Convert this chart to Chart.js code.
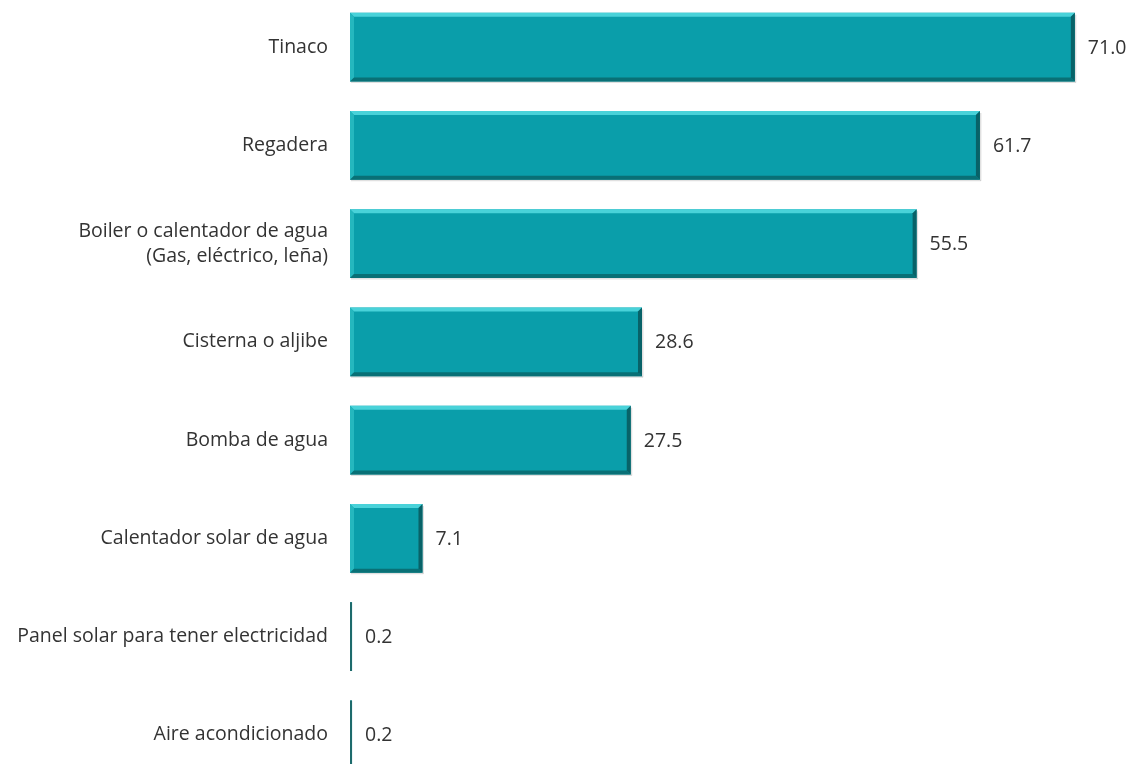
<!DOCTYPE html>
<html>
<head>
<meta charset="utf-8">
<script src="https://cdn.jsdelivr.net/npm/chart.js@4"></script>
<style>
  html, body { margin: 0; padding: 0; background: #fff; overflow: hidden; }
  #wrap { position: absolute; left: 0; top: -2px; width: 1130px; height: 786px; }
</style>
</head>
<body>
<div id="wrap"><canvas id="myChart"></canvas></div>
<script>
// categorias y valores (%)
var categories = [
  "Tinaco",
  "Regadera",
  ["Boiler o calentador de agua", "(Gas, eléctrico, leña)"],
  "Cisterna o aljibe",
  "Bomba de agua",
  "Calentador solar de agua",
  "Panel solar para tener electricidad",
  "Aire acondicionado"
];
var values = [71.0, 61.7, 55.5, 28.6, 27.5, 7.1, 0.2, 0.2];
var valueLabels = ["71.0", "61.7", "55.5", "28.6", "27.5", "7.1", "0.2", "0.2"];

var fontFamily = "'Open Sans', 'Noto Sans', sans-serif";

// efecto biselado en las barras
var bevelPlugin = {
  id: "bevel",
  afterDatasetsDraw: function (chart) {
    var ctx = chart.ctx;
    var meta = chart.getDatasetMeta(0);
    meta.data.forEach(function (bar, i) {
      var left = Math.min(bar.base, bar.x);
      var right = Math.max(bar.base, bar.x);
      var top = bar.y - bar.height / 2;
      var bottom = bar.y + bar.height / 2;
      var w = right - left;
      var h = bottom - top;
      var e = Math.min(4, w / 2);
      ctx.save();
      if (w > 6) {
        // arriba claro
        ctx.fillStyle = "rgba(80, 215, 222, 0.9)";
        ctx.beginPath();
        ctx.moveTo(left, top); ctx.lineTo(right, top);
        ctx.lineTo(right - e, top + e); ctx.lineTo(left + e, top + e);
        ctx.closePath(); ctx.fill();
        // izquierda
        ctx.fillStyle = "rgba(40, 185, 192, 0.9)";
        ctx.beginPath();
        ctx.moveTo(left, top); ctx.lineTo(left + e, top + e);
        ctx.lineTo(left + e, bottom - e); ctx.lineTo(left, bottom);
        ctx.closePath(); ctx.fill();
        // abajo oscuro
        ctx.fillStyle = "rgba(10, 110, 115, 0.95)";
        ctx.beginPath();
        ctx.moveTo(left, bottom); ctx.lineTo(right, bottom);
        ctx.lineTo(right - e, bottom - e); ctx.lineTo(left + e, bottom - e);
        ctx.closePath(); ctx.fill();
        // derecha
        ctx.fillStyle = "rgba(8, 95, 100, 0.95)";
        ctx.beginPath();
        ctx.moveTo(right, top); ctx.lineTo(right - e, top + e);
        ctx.lineTo(right - e, bottom - e); ctx.lineTo(right, bottom);
        ctx.closePath(); ctx.fill();
        // sombra
        ctx.fillStyle = "rgba(0, 0, 0, 0.12)";
        ctx.fillRect(left + 1, bottom, w, 1.5);
        ctx.fillRect(right, top + 2, 1.5, h - 1);
      } else {
        ctx.fillStyle = "#1d6b6c";
        ctx.fillRect(left, top, Math.max(w, 2), h);
      }
      // etiqueta de valor
      ctx.fillStyle = "#333333";
      ctx.font = "19.5px " + fontFamily;
      ctx.textAlign = "left";
      ctx.textBaseline = "middle";
      ctx.fillText(valueLabels[i], right + 13, bar.y + 1);
      ctx.restore();
    });
  }
};

var ctx = document.getElementById("myChart").getContext("2d");
var chart = new Chart(ctx, {
  type: "bar",
  data: {
    labels: categories,
    datasets: [
      {
        data: values,
        backgroundColor: "#0a9eaa",
        borderWidth: 0,
        categoryPercentage: 0.7,
        barPercentage: 1.0
      }
    ]
  },
  options: {
    indexAxis: "y",
    responsive: true,
    maintainAspectRatio: false,
    animation: false,
    layout: { padding: 0 },
    plugins: {
      legend: { display: false },
      tooltip: { enabled: false }
    },
    scales: {
      x: {
        min: 0,
        max: 76.4,
        display: false
      },
      y: {
        grid: { display: false, drawTicks: false },
        border: { display: false },
        ticks: {
          padding: 22,
          color: "#333333",
          font: { family: fontFamily, size: 19.5, lineHeight: 1.3 }
        },
        afterFit: function (scale) {
          scale.width = 350;
          scale.paddingTop = 0;
          scale.paddingBottom = 0;
        }
      }
    }
  },
  plugins: [bevelPlugin]
});
</script>
</body>
</html>
